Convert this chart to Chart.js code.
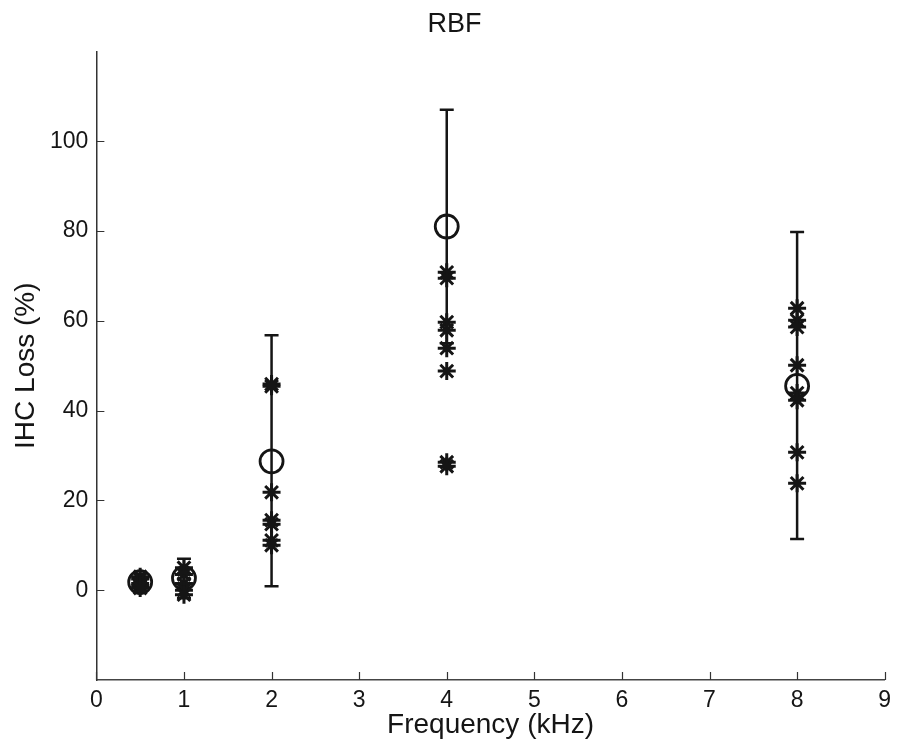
<!DOCTYPE html>
<html>
<head>
<meta charset="utf-8">
<script src="https://cdn.jsdelivr.net/npm/chart.js@4.4.1/dist/chart.umd.min.js"></script>
<style>
  html, body { margin: 0; padding: 0; background: #fff; }
  #wrap { width: 899px; height: 751px; }
</style>
</head>
<body>
<div id="wrap"><canvas id="rbfChart"></canvas></div>
<script>
// frequencies (kHz) and individual IHC loss values per frequency
const freqs = [0.5, 1, 2, 4, 8];
const loss05 = [3, 2.5, 1.5, 1, 0.5];
const loss1 = [5, 3.5, 1.5, 0, -1];
const loss2 = [45.9, 45.4, 21.8, 15.6, 14.7, 11.1, 10.0];
const loss4 = [70.8, 69.5, 59.7, 57.9, 53.9, 48.8, 28.5, 27.6];
const loss8 = [62.8, 60.1, 58.6, 50.1, 43.9, 42.3, 30.7, 23.8];

// mean and error bar limits
const means = [1.8, 2.7, 28.7, 81.0, 45.5];
const errLow = [0.8, -1.8, 0.9, 55.0, 11.4];
const errHigh = [2.8, 7.0, 56.8, 107.0, 79.8];

const xTicks = [0, 1, 2, 3, 4, 5, 6, 7, 8, 9];
const yTicks = [0, 20, 40, 60, 80, 100];

const ink = '#151515';
const font = "'Liberation Sans', Arial, sans-serif";

const allLoss = [loss05, loss1, loss2, loss4, loss8];
const starPoints = [];
allLoss.forEach((vals, i) => {
    vals.forEach(v => starPoints.push({ x: freqs[i], y: v }));
});

// error bars drawn through the scales
const errorBars = {
    id: 'errorBars',
    beforeDatasetsDraw(chart) {
        const { ctx, scales: { x, y } } = chart;
        ctx.save();
        ctx.strokeStyle = ink;
        ctx.lineWidth = 2.5;
        freqs.forEach((f, i) => {
            let px = x.getPixelForValue(f);
            let top = y.getPixelForValue(errHigh[i]);
            let bot = y.getPixelForValue(errLow[i]);
            ctx.beginPath();
            ctx.moveTo(px, top); ctx.lineTo(px, bot);
            ctx.moveTo(px - 7, top); ctx.lineTo(px + 7, top);
            ctx.moveTo(px - 7, bot); ctx.lineTo(px + 7, bot);
            ctx.stroke();
        });
        ctx.restore();
    }
};

// inward tick marks like the original
const innerTicks = {
    id: 'innerTicks',
    afterDraw(chart) {
        const { ctx, chartArea, scales: { x, y } } = chart;
        ctx.save();
        ctx.strokeStyle = '#333';
        ctx.lineWidth = 1.2;
        ctx.beginPath();
        xTicks.forEach(t => {
            let px = Math.round(x.getPixelForValue(t)) + 0.5;
            ctx.moveTo(px, chartArea.bottom);
            ctx.lineTo(px, chartArea.bottom - 8);
        });
        yTicks.forEach(t => {
            let py = Math.round(y.getPixelForValue(t)) + 0.5;
            ctx.moveTo(chartArea.left, py);
            ctx.lineTo(chartArea.left + 8, py);
        });
        ctx.stroke();
        ctx.restore();
    }
};

new Chart(document.getElementById('rbfChart'), {
    type: 'scatter',
    data: {
        datasets: [{
            label: 'Ears',
            data: starPoints,
            pointStyle: 'star',
            pointRadius: 9,
            pointBorderWidth: 3,
            borderColor: ink,
            backgroundColor: ink
        }, {
            label: 'Mean',
            data: freqs.map((f, i) => ({ x: f, y: means[i] })),
            pointStyle: 'circle',
            pointRadius: 11.5,
            pointBorderWidth: 2.8,
            borderColor: ink,
            backgroundColor: 'rgba(0,0,0,0)'
        }]
    },
    options: {
        responsive: true,
        maintainAspectRatio: false,
        animation: false,
        layout: { padding: { left: 12, right: 2, top: 0, bottom: 12 } },
        plugins: {
            legend: { display: false },
            tooltip: { enabled: false },
            title: {
                display: true,
                text: 'RBF',
                color: ink,
                font: { family: font, size: 27, weight: 'normal' },
                padding: { top: 8, bottom: 11 }
            }
        },
        scales: {
            x: {
                type: 'linear',
                min: 0, max: 9,
                afterBuildTicks: s => { s.ticks = xTicks.map(v => ({ value: v })); },
                // invisible outer ticks only push the labels down
                grid: { display: true, drawOnChartArea: false, drawTicks: true, tickLength: 9, color: 'rgba(0,0,0,0)' },
                border: { display: true, color: '#444', width: 1.5 },
                ticks: { color: ink, font: { family: font, size: 23, lineHeight: 1 }, padding: 0 },
                title: {
                    display: true,
                    text: 'Frequency (kHz)',
                    color: ink,
                    font: { family: font, size: 28, lineHeight: 1 },
                    padding: { top: -1, bottom: 0 }
                }
            },
            y: {
                min: -20, max: 120,
                afterBuildTicks: s => { s.ticks = yTicks.map(v => ({ value: v })); },
                grid: { display: false, drawTicks: false, tickLength: 0 },
                border: { display: true, color: '#333', width: 1.5 },
                ticks: { color: ink, font: { family: font, size: 23, lineHeight: 1 }, padding: 8 },
                title: {
                    display: true,
                    text: 'IHC Loss (%)',
                    color: ink,
                    font: { family: font, size: 28, lineHeight: 1 },
                    padding: { top: 0, bottom: 2 }
                }
            }
        }
    },
    plugins: [errorBars, innerTicks]
});
</script>
</body>
</html>
